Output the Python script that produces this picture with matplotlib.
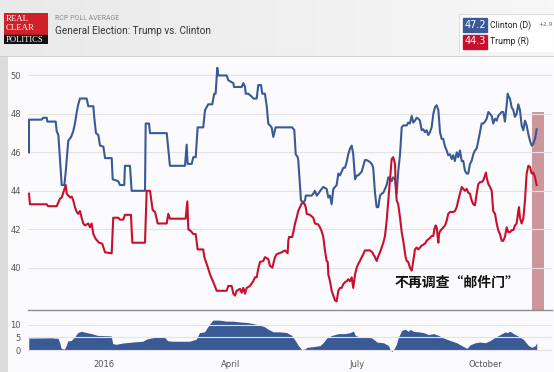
import matplotlib
matplotlib.use('Agg')
import matplotlib.pyplot as plt
import numpy as np

# days counted from 2016-01-01
clinton_day = [-53.5, -53.5, -44.4, -43.2, -40.8, -40.3, -34.3, -33.6, -32.4, -30.0,
               -28.1, -27.1, -26.4, -25.3, -23.3, -21.7, -20.5, -19.2, -18.1, -16.9,
               -12.1, -10.9, -7.3, -6.6, -5.4, -3.7, -2.5, -0.1, 1.1, 5.9,
               6.6, 10.6, 11.8, 14.9, 15.4, 19.0, 20.2, 29.8, 30.3, 32.7,
               33.4, 37.0, 45.4, 46.5, 47.7, 58.5, 59.7, 60.4, 63.3, 64.5,
               66.2, 67.6, 71.6, 72.9, 75.2, 78.1, 79.5, 80.5, 81.7, 82.4,
               88.4, 89.6, 93.2, 93.7, 99.2, 100.4, 101.6, 102.1, 104.0, 106.4,
               107.5, 110.0, 111.1, 113.1, 114.0, 115.9, 117.2, 118.3, 120.7, 121.9,
               123.6, 131.5, 132.7, 135.5, 137.0, 138.0, 139.4, 139.8, 141.1, 141.8,
               143.4, 144.7, 145.2, 149.5, 150.6, 151.8, 153.1, 154.2, 156.6, 157.8,
               160.2, 161.4, 162.6, 163.8, 165.0, 166.2, 167.4, 168.6, 169.8, 171.0,
               172.2, 173.4, 174.6, 175.7, 177.0, 178.2, 179.3, 180.6, 181.8, 182.9,
               184.1, 185.4, 187.7, 188.9, 191.3, 193.0, 193.7, 194.9, 196.1, 197.3,
               198.5, 199.7, 200.9, 202.1, 203.3, 204.5, 205.7, 206.9, 208.0, 209.3,
               210.5, 211.6, 212.9, 214.1, 215.2, 216.4, 217.7, 218.8, 220.0, 221.3,
               222.4, 223.6, 224.8, 226.0, 227.2, 228.4, 229.6, 230.8, 232.0, 233.2,
               234.4, 235.6, 236.8, 238.0, 239.2, 240.4, 241.6, 242.8, 243.9, 245.2,
               246.4, 247.5, 248.8, 250.0, 251.1, 252.3, 253.6, 254.7, 255.9, 257.2,
               258.3, 259.5, 260.7, 261.9, 263.1, 264.3, 265.5, 266.7, 267.9, 269.1,
               270.3, 271.5, 272.7, 273.9, 275.1, 276.3, 277.5, 278.7, 279.8, 281.1,
               282.3, 283.4, 284.6, 285.9, 287.0, 288.2, 289.5, 290.2, 290.6, 291.8,
               293.0, 294.2, 295.4, 296.6, 297.8, 299.0, 300.2, 301.4, 302.6, 303.8,
               305.0, 306.2, 307.4, 308.6, 309.8, 311.0]
clinton_val = [46.0, 47.7, 47.7, 47.8, 47.8, 47.6, 47.6, 47.1, 46.9, 44.3,
               44.3, 45.0, 45.6, 46.6, 46.8, 47.1, 47.5, 48.1, 48.5, 48.8,
               48.8, 48.4, 48.4, 47.8, 47.0, 46.9, 46.35, 46.3, 45.7, 45.7,
               44.6, 44.5, 44.3, 44.3, 45.3, 45.3, 44.0, 44.0, 47.5, 47.5,
               47.0, 47.0, 47.0, 46.2, 45.3, 45.3, 46.4, 45.4, 45.4, 45.75,
               45.75, 47.3, 47.3, 48.2, 48.5, 48.5, 49.05, 49.05, 50.4, 50.0,
               50.0, 49.75, 49.6, 49.4, 49.4, 49.6, 49.4, 49.05, 49.05, 48.9,
               48.8, 48.8, 49.5, 49.5, 49.05, 49.05, 48.4, 47.5, 47.3, 46.8,
               47.3, 47.3, 47.3, 47.3, 47.15, 45.9, 45.75, 45.6, 44.2, 43.5,
               43.4, 43.5, 43.75, 43.75, 43.85, 44.0, 43.75, 43.85, 44.1, 44.2,
               44.1, 43.65, 43.75, 43.3, 44.1, 44.2, 44.3, 44.9, 44.8, 45.0,
               45.2, 45.2, 45.5, 45.9, 46.2, 46.35, 45.9, 44.6, 44.8, 44.8,
               44.9, 45.0, 45.6, 45.6, 45.5, 45.35, 45.15, 43.9, 43.15, 43.15,
               43.75, 43.85, 43.9, 44.1, 44.3, 44.7, 44.7, 44.5, 44.7, 44.6,
               43.85, 45.0, 45.9, 47.3, 47.4, 47.4, 47.4, 47.55, 47.5, 47.9,
               47.55, 47.65, 47.8, 47.75, 47.65, 47.15, 47.2, 47.05, 47.15, 46.9,
               47.05, 47.3, 48.0, 48.35, 48.45, 48.2, 47.05, 46.7, 46.7, 46.3,
               46.1, 45.85, 45.9, 45.65, 45.85, 45.55, 46.0, 45.75, 46.1, 45.55,
               45.55, 45.05, 44.9, 44.9, 45.4, 45.55, 45.9, 46.1, 46.2, 46.6,
               47.05, 47.5, 47.5, 47.6, 47.75, 48.1, 48.0, 47.9, 47.5, 47.75,
               47.65, 47.9, 48.0, 48.1, 48.1, 47.6, 48.5, 49.05, 48.95, 48.8,
               48.35, 48.2, 47.85, 48.0, 48.5, 48.2, 47.4, 47.15, 47.65, 47.4,
               46.95, 46.6, 46.35, 46.45, 46.7, 47.2]

trump_day = [-53.5, -52.8, -40.8, -39.8, -33.6, -32.4, -31.2, -30.0, -28.9, -27.1,
             -26.4, -24.0, -22.8, -21.7, -20.5, -19.2, -18.1, -16.9, -15.7, -14.5,
             -13.3, -10.9, -9.7, -8.5, -7.3, -5.6, -3.2, -0.9, 1.1, 5.9,
             7.0, 10.6, 11.8, 14.2, 15.4, 19.7, 20.7, 29.8, 31.0, 33.4,
             35.3, 37.0, 38.9, 45.4, 46.5, 47.7, 59.0, 60.2, 60.9, 62.8,
             64.5, 66.2, 67.6, 71.6, 72.4, 75.2, 76.5, 78.8, 81.3, 88.4,
             89.6, 92.0, 93.2, 94.4, 95.6, 98.0, 99.2, 100.4, 101.6, 102.8,
             105.2, 107.5, 108.8, 110.0, 111.1, 112.4, 114.7, 115.9, 118.3, 119.5,
             121.2, 123.1, 124.3, 127.9, 130.3, 132.2, 132.7, 133.2, 135.5, 136.3,
             137.5, 138.7, 139.8, 141.1, 142.3, 144.2, 145.2, 145.9, 148.2, 150.6,
             151.8, 154.2, 155.4, 156.6, 157.8, 159.0, 160.2, 161.0, 161.4, 162.6,
             163.8, 165.0, 166.2, 167.4, 168.6, 169.8, 171.0, 172.2, 173.4, 174.6,
             175.7, 177.0, 178.2, 179.3, 180.6, 181.8, 182.9, 184.1, 185.4, 186.5,
             187.7, 188.9, 191.3, 193.0, 193.7, 194.9, 196.1, 197.3, 198.5, 199.7,
             200.9, 202.1, 203.3, 204.5, 205.7, 206.4, 206.9, 208.0, 209.3, 209.8,
             210.5, 211.6, 212.9, 214.1, 215.2, 215.9, 216.9, 217.7, 218.8, 220.0,
             221.3, 222.4, 223.6, 224.8, 226.0, 227.2, 228.4, 230.8, 232.0, 234.4,
             235.6, 236.8, 237.5, 238.5, 239.2, 240.4, 240.9, 241.6, 242.8, 243.9,
             245.2, 246.4, 247.5, 248.8, 251.1, 252.3, 253.6, 254.7, 255.9, 257.2,
             258.3, 259.5, 260.7, 261.9, 263.1, 264.3, 265.5, 266.7, 267.9, 269.1,
             270.3, 271.5, 272.7, 273.9, 274.6, 275.1, 276.3, 277.5, 278.7, 279.8,
             281.1, 282.3, 283.4, 284.6, 285.9, 287.0, 288.2, 289.5, 290.6, 291.8,
             293.0, 294.2, 295.4, 296.6, 297.8, 298.3, 299.0, 300.2, 301.4, 302.6,
             303.8, 305.0, 306.2, 307.4, 308.6, 309.8, 311.0]
trump_val = [43.85, 43.3, 43.3, 43.2, 43.2, 43.4, 43.6, 43.65, 43.9, 44.3,
             43.85, 43.65, 43.7, 43.5, 43.15, 42.9, 42.8, 42.95, 42.6, 42.3,
             42.2, 42.3, 42.1, 42.3, 41.75, 41.5, 41.3, 41.25, 40.8, 40.75,
             42.6, 42.6, 42.5, 42.5, 42.75, 42.75, 41.3, 41.3, 44.0, 44.0,
             43.0, 42.9, 42.3, 42.3, 42.8, 42.55, 42.55, 43.45, 42.0, 41.9,
             41.75, 41.75, 40.95, 40.95, 40.55, 39.95, 39.65, 39.25, 38.8, 38.8,
             39.05, 39.05, 38.65, 38.55, 38.8, 38.9, 38.7, 38.95, 38.65, 38.95,
             39.05, 39.3, 39.5, 39.5, 39.95, 40.3, 40.35, 40.55, 40.45, 40.1,
             40.0, 40.55, 40.7, 40.8, 40.9, 40.75, 41.4, 41.6, 41.6, 41.85,
             42.3, 42.6, 42.95, 43.15, 43.35, 43.35, 43.15, 42.8, 42.75, 42.6,
             42.3, 42.25, 42.1, 41.9, 41.6, 40.9, 40.35, 40.3, 39.65, 39.3,
             38.8, 38.55, 38.3, 38.25, 38.8, 38.95, 38.95, 39.15, 39.25, 39.3,
             39.4, 39.3, 39.5, 38.95, 39.65, 40.0, 40.2, 40.35, 40.55, 40.7,
             40.9, 40.9, 40.9, 40.8, 40.7, 40.55, 40.35, 40.6, 40.8, 41.05,
             41.3, 41.65, 42.45, 43.5, 44.55, 45.2, 45.65, 45.75, 45.4, 44.2,
             43.5, 43.3, 42.6, 41.85, 41.4, 41.05, 40.55, 40.35, 40.3, 40.0,
             39.85, 40.35, 40.95, 41.05, 40.95, 41.05, 41.15, 41.25, 41.4, 41.55,
             41.65, 41.65, 42.0, 42.2, 42.1, 41.3, 41.75, 41.9, 42.0, 42.1,
             42.2, 42.45, 42.8, 42.9, 42.9, 42.95, 43.15, 43.5, 43.85, 44.2,
             44.1, 44.0, 44.1, 43.9, 43.85, 43.5, 43.3, 43.25, 43.85, 44.35,
             44.45, 44.45, 44.55, 44.8, 44.95, 44.7, 44.35, 44.2, 44.0, 42.95,
             42.8, 42.3, 41.95, 41.75, 41.4, 41.4, 41.6, 42.1, 41.85, 41.85,
             41.95, 41.95, 42.2, 42.3, 42.95, 43.15, 42.6, 42.3, 42.55, 43.5,
             44.9, 45.3, 45.25, 44.9, 44.95, 44.7, 44.3]

spread_day = [-53.3, -36.0, -34.8, -32.4, -31.2, -30.0, -28.9, -27.6, -26.4, -25.3,
              -22.8, -20.5, -18.1, -15.7, -13.3, -8.5, -3.7, 5.9, 7.0, 9.5,
              14.2, 21.4, 28.6, 31.0, 34.6, 39.3, 44.2, 46.5, 50.1, 62.1,
              66.9, 69.3, 72.9, 75.2, 78.8, 83.6, 88.4, 93.2, 98.0, 102.8,
              107.5, 112.4, 116.0, 118.3, 120.8, 122.4, 127.2, 131.9, 135.5, 138.0,
              140.3, 142.7, 145.2, 146.3, 151.1, 155.9, 158.3, 160.7, 164.3, 169.1,
              173.9, 177.5, 179.8, 181.1, 184.6, 189.4, 193.0, 195.4, 196.6, 201.4,
              205.0, 206.2, 207.3, 208.6, 210.5, 212.1, 214.5, 217.0, 219.3, 220.5,
              222.9, 226.5, 230.1, 233.7, 237.3, 240.9, 244.4, 249.3, 254.0, 257.6,
              261.2, 263.6, 267.2, 270.8, 274.4, 278.0, 281.6, 285.1, 288.7, 289.9,
              292.3, 294.7, 298.3, 301.9, 305.5, 307.8, 310.3, 311.4]
spread_val = [4.55, 4.65, 4.5, 4.5, 2.95, 0.55, 0.3, 0.3, 1.65, 3.4,
              3.6, 4.95, 6.7, 7.2, 6.9, 6.3, 5.6, 5.4, 2.35, 2.1,
              2.6, 3.0, 3.3, 4.1, 4.6, 5.0, 4.8, 3.5, 3.3, 3.3,
              4.1, 6.7, 7.0, 9.0, 11.6, 11.6, 11.2, 11.2, 10.9, 10.7,
              10.3, 9.6, 9.0, 8.1, 7.4, 7.0, 7.0, 6.7, 5.6, 3.6,
              1.6, 0.0, 0.3, 0.9, 1.2, 1.6, 2.9, 4.6, 5.6, 6.3,
              6.3, 6.7, 7.3, 5.6, 4.9, 4.9, 4.6, 3.6, 3.0, 2.7,
              1.6, 0.0, -0.7, 0.0, 1.9, 4.9, 7.6, 8.0, 7.2, 8.0,
              7.2, 7.0, 6.7, 5.9, 6.3, 5.6, 4.6, 3.6, 2.7, 1.6,
              0.5, 1.9, 2.7, 3.0, 2.7, 3.6, 4.9, 5.9, 7.0, 6.7,
              7.2, 6.3, 5.3, 4.0, 1.6, 0.9, 1.6, 2.7]

month_day = [0, 91, 182, 274]
month_lbl = ['2016', 'April', 'July', 'October']

# window after the FBI letter (days)
mark_start, mark_end, mark_top = 307.4, 316.0, 48.1

W, H = 554, 372
BLUE = '#3a5a96'
RED = '#c8102e'


def rect(x0, y0, x1, y1):
    return [x0 / W, 1 - y1 / H, (x1 - x0) / W, (y1 - y0) / H]


fig = plt.figure(figsize=(W / 100, H / 100), dpi=100)
fig.patch.set_facecolor('#fbfbfd')

# header band
hdr = fig.add_axes(rect(0, 0, W, 57))
grad = np.linspace(0, 1, 100).reshape(1, -1)
hdr.imshow(np.vstack([grad, grad]), aspect='auto',
           cmap=matplotlib.colors.LinearSegmentedColormap.from_list('g', ['#e9e9e9', '#f7f7f7']),
           extent=[0, 1, 0, 1])
hdr.axhline(0, color='#d0d0d0', lw=1.5)
hdr.axis('off')

# left gray strip
strip = fig.add_axes(rect(0, 57, 8, H))
strip.add_patch(plt.Rectangle((0, 0), 1, 1, color='#dcdcdc', transform=strip.transAxes))
strip.axis('off')

# logo
logo = fig.add_axes(rect(4, 13, 48, 44))
logo.set_xlim(0, 1)
logo.set_ylim(0, 1)
logo.add_patch(plt.Rectangle((0, 0.3), 1, 0.7, color='#d0202a'))
logo.add_patch(plt.Rectangle((0, 0), 1, 0.3, color='#111111'))
logo.text(0.04, 0.8, 'REAL', color='white', fontsize=6.3, family='Liberation Serif', va='center')
logo.text(0.04, 0.52, 'CLEAR', color='white', fontsize=6.3, family='Liberation Serif', va='center')
logo.text(0.03, 0.14, 'POLITICS', color='white', fontsize=6.1, family='Liberation Serif', va='center')
logo.axis('off')

fig.text(55 / W, 1 - 18 / H, 'RCP POLL AVERAGE', fontsize=5, color='#8a8a8a', family='Roboto', va='center')
fig.text(55 / W, 1 - 31 / H, 'General Election: Trump vs. Clinton', fontsize=7.2, color='#333333',
         family='Roboto', va='center')

# legend box
leg = fig.add_axes(rect(459, 14, 554, 52))
leg.set_xlim(459, 554)
leg.set_ylim(52, 14)
leg.add_patch(plt.Rectangle((459, 14), 95, 38, facecolor='white', edgecolor='#dddddd', lw=0.8))
leg.add_patch(plt.Rectangle((463, 17.5), 24, 14.5, color=BLUE))
leg.add_patch(plt.Rectangle((463, 34.5), 24, 14, color=RED))
leg.text(475, 25, '%.1f' % clinton_val[-1], color='white', fontsize=7, ha='center', va='center')
leg.text(475, 41.5, '%.1f' % trump_val[-1], color='white', fontsize=7, ha='center', va='center')
leg.text(490, 25, 'Clinton (D)', color='#222222', fontsize=6.2, family='Roboto', va='center')
leg.text(538, 25, '+%.1f' % (clinton_val[-1] - trump_val[-1]), color='#4a6a9a', fontsize=4.2, va='center')
leg.text(490, 41.5, 'Trump (R)', color='#222222', fontsize=6.2, family='Roboto', va='center')
leg.axis('off')

# main chart
ax = fig.add_axes(rect(28, 62, 552, 310))
ax.set_facecolor('none')
ax.set_xlim(-54.2, 322)
ax.set_ylim(37.8, 50.7)
ax.set_yticks([40, 42, 44, 46, 48, 50])
ax.grid(axis='y', color='#e3e3e6', lw=0.8)
ax.set_xticks([])
for s in ['top', 'right', 'left']:
    ax.spines[s].set_visible(False)
ax.spines['bottom'].set_color('#8c8c8c')
ax.spines['bottom'].set_linewidth(1.0)
ax.tick_params(axis='y', length=0, labelsize=6, labelcolor='#555555', pad=5)

ax.fill_between([mark_start, mark_end], 37.8, mark_top, color='#c4868b', alpha=0.85, lw=0, zorder=1)
ax.plot(clinton_day, clinton_val, color=BLUE, lw=1.5, zorder=3)
ax.plot(trump_day, trump_val, color=RED, lw=1.5, zorder=3)
ax.text(254, 39.2, '不再调查“邮件门”', fontsize=10, fontweight='bold', color='#111111',
        family=['Noto Sans CJK SC', 'DejaVu Sans'], ha='center', va='center', zorder=4)

# navigator (spread)
nav = fig.add_axes(rect(28, 313, 552, 356))
nav.set_facecolor('none')
nav.set_xlim(-54.2, 322)
nav.set_ylim(-2.3, 14.6)
nav.set_yticks([0, 5, 10])
nav.grid(axis='y', color='#e3e3e6', lw=0.8)
for s in nav.spines.values():
    s.set_visible(False)
sd = np.array(spread_day)
sv = np.array(spread_val)
nav.fill_between(sd, 0, sv, where=sv >= 0, interpolate=True, color=BLUE, lw=0)
nav.fill_between(sd, 0, sv, where=sv <= 0, interpolate=True, color=RED, lw=0)
nav.set_xticks(month_day)
nav.set_xticklabels(month_lbl)
nav.tick_params(axis='x', length=0, labelsize=6, labelcolor='#555555', pad=3)
nav.tick_params(axis='y', length=0, labelsize=6, labelcolor='#555555', pad=5)

fig.savefig('out.png', dpi=100, facecolor=fig.get_facecolor())
